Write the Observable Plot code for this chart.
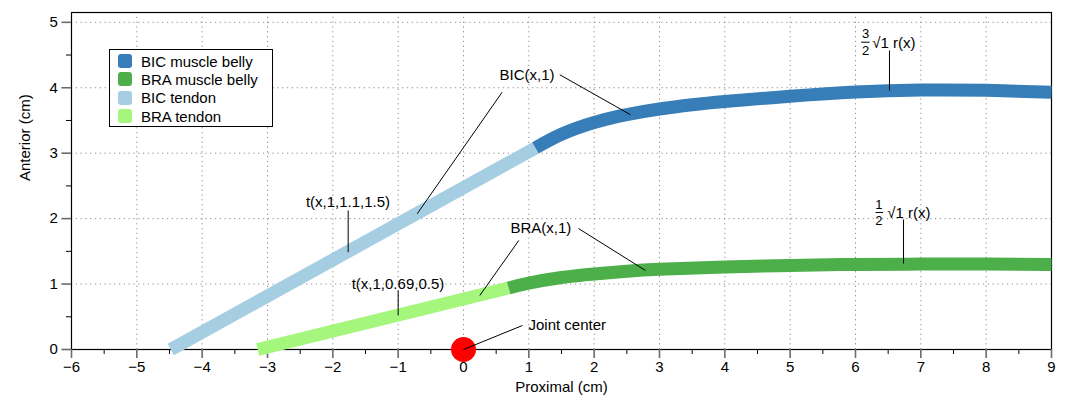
<!DOCTYPE html>
<html>
<head>
<meta charset="utf-8">
<script src="https://cdn.jsdelivr.net/npm/d3@7"></script>
<script src="https://cdn.jsdelivr.net/npm/@observablehq/plot@0.6"></script>
<style>
  body { margin: 0; background: #fff; font-family: "Liberation Sans", Arial, Helvetica, sans-serif; }
  #wrap { position: relative; width: 1068px; height: 400px; }
  #legend { position: absolute; left: 109px; top: 49px; width: 164px; height: 78px; box-sizing: border-box;
            border: 1px solid #000; background: #fff; padding-top: 2px; font-size: 15px; color: #000; }
  .row { display: flex; align-items: center; height: 18.3px; }
  .sw { width: 14px; height: 14px; border-radius: 3px; margin-left: 8px; margin-right: 9px; flex: none; }
</style>
</head>
<body>
<div id="wrap"><div id="legend"></div></div>
<script>
// ---- series data ----
const bicTendonX = [-4.48, 1.1];
const bicTendonY = [0, 3.08];
const braTendonX = [-3.15, 0.69];
const braTendonY = [0, 0.94];
const bicBellyX = [1.1, 1.5, 2, 2.5, 3, 3.5, 4, 5, 6, 7, 8, 9];
const bicBellyY = [3.08, 3.29, 3.47, 3.59, 3.675, 3.74, 3.79, 3.87, 3.935, 3.965, 3.96, 3.93];
const braBellyX = [0.69, 1, 1.5, 2, 2.5, 3, 4, 5, 6, 7, 8, 9];
const braBellyY = [0.94, 1.015, 1.10, 1.155, 1.195, 1.225, 1.26, 1.285, 1.30, 1.305, 1.305, 1.30];
const jointX = [0];
const jointY = [0];

// ---- legend ----
const legendLabels = ["BIC muscle belly", "BRA muscle belly", "BIC tendon", "BRA tendon"];
const legendColors = ["#377eb8", "#4daf4a", "#a6cee3", "#a5f67c"];

// ---- ticks ----
const majorX = d3.range(-6, 10, 1);
const minorX = d3.range(-5.5, 9, 1);
const majorY = d3.range(0, 6, 1);
const minorY = d3.range(0.5, 5, 1);
const gridXTicks = d3.range(-5, 9, 1);
const gridYTicks = d3.range(1, 6, 1);

// ---- annotations ----
const startLabelText = ["BIC(x,1)", "BRA(x,1)", "Joint center", "√1 r(x)", "√1 r(x)"];
const startLabelX = [0.551, 0.719, 0.995, 6.256, 6.485];
const startLabelY = [4.187, 1.849, 0.367, 4.676, 2.083];
const midLabelText = ["t(x,1,1.1,1.5)", "t(x,1,0.69,0.5)"];
const midLabelX = [-1.768, -1.003];
const midLabelY = [2.246, 0.993];
const fracText = ["3", "2", "1", "2"];
const fracX = [6.153, 6.153, 6.357, 6.357];
const fracY = [4.824, 4.569, 2.216, 1.971];
const leaderX1 = [1.474, 0.592, -1.765, 1.760, 0.846, -1.0, 0, 6.52, 6.735, 6.087, 6.306];
const leaderY1 = [4.198, 3.932, 2.124, 1.849, 1.666, 0.902, 0, 4.569, 1.987, 4.696, 2.094];
const leaderX2 = [2.556, -0.709, -1.765, 2.786, 0.249, -1.0, 0.903, 6.52, 6.735, 6.215, 6.424];
const leaderY2 = [3.588, 2.074, 1.487, 1.207, 0.825, 0.520, 0.367, 3.958, 1.314, 4.696, 2.094];

const toRows = (xs, ys) => xs.map((x, i) => ({x, y: ys[i]}));
const leaders = leaderX1.map((x1, i) => ({x1, y1: leaderY1[i], x2: leaderX2[i], y2: leaderY2[i]}));
const startLabels = startLabelText.map((t, i) => ({t, x: startLabelX[i], y: startLabelY[i]}));
const midLabels = midLabelText.map((t, i) => ({t, x: midLabelX[i], y: midLabelY[i]}));
const fracs = fracText.map((t, i) => ({t, x: fracX[i], y: fracY[i]}));

const gridStyle = {stroke: "#8a8a8a", strokeOpacity: 1, strokeDasharray: "1.2,3.6"};
const lineStyle = {strokeWidth: 13, strokeLinecap: "butt", strokeLinejoin: "round"};

const chart = Plot.plot({
  width: 1068, height: 400,
  marginLeft: 71, marginRight: 17, marginTop: 12, marginBottom: 51,
  x: {domain: [-6, 9]},
  y: {domain: [0, 5.15]},
  style: {fontFamily: '"Liberation Sans", Arial, Helvetica, sans-serif', fontSize: "15px", color: "black", background: "white"},
  marks: [
    Plot.gridX(gridXTicks, gridStyle),
    Plot.gridY(gridYTicks, gridStyle),
    Plot.frame({stroke: "black", strokeWidth: 1.2}),
    Plot.axisX(majorX, {tickSize: 9, tickPadding: 3, stroke: "#6b6b6b", strokeWidth: 1.6, fill: "black", label: null}),
    Plot.axisX(minorX, {tickSize: 5, stroke: "black", tickFormat: () => "", label: null}),
    Plot.axisY(majorY, {tickSize: 9.6, tickPadding: 4, stroke: "#6b6b6b", strokeWidth: 1.6, fill: "black", tickFormat: "d", label: null}),
    Plot.axisY(minorY, {tickSize: 5, stroke: "black", tickFormat: () => "", label: null}),
    Plot.text(["Proximal (cm)"], {text: d => d, frameAnchor: "bottom", dy: 42}),
    Plot.text(["Anterior (cm)"], {text: d => d, frameAnchor: "left", rotate: -90, dx: -46}),
    Plot.line(toRows(bicTendonX, bicTendonY), {x: "x", y: "y", stroke: legendColors[2], ...lineStyle}),
    Plot.line(toRows(braTendonX, braTendonY), {x: "x", y: "y", stroke: legendColors[3], ...lineStyle}),
    Plot.line(toRows(bicBellyX, bicBellyY), {x: "x", y: "y", stroke: legendColors[0], curve: "natural", ...lineStyle}),
    Plot.line(toRows(braBellyX, braBellyY), {x: "x", y: "y", stroke: legendColors[1], curve: "natural", ...lineStyle}),
    Plot.dot(toRows(jointX, jointY), {x: "x", y: "y", r: 12.5, fill: "#ff0000"}),
    Plot.link(leaders, {x1: "x1", y1: "y1", x2: "x2", y2: "y2", stroke: "black", strokeWidth: 1}),
    Plot.text(startLabels, {x: "x", y: "y", text: "t", textAnchor: "start", fill: "black"}),
    Plot.text(midLabels, {x: "x", y: "y", text: "t", textAnchor: "middle", fill: "black"}),
    Plot.text(fracs, {x: "x", y: "y", text: "t", textAnchor: "middle", fontSize: 13, fill: "black"})
  ]
});
document.getElementById("wrap").insertBefore(chart, document.getElementById("legend"));

const legend = document.getElementById("legend");
legendLabels.forEach((lab, i) => {
  const row = document.createElement("div");
  row.className = "row";
  const sw = document.createElement("span");
  sw.className = "sw";
  sw.style.background = legendColors[i];
  const tx = document.createElement("span");
  tx.textContent = lab;
  row.appendChild(sw); row.appendChild(tx);
  legend.appendChild(row);
});
</script>
</body>
</html>
